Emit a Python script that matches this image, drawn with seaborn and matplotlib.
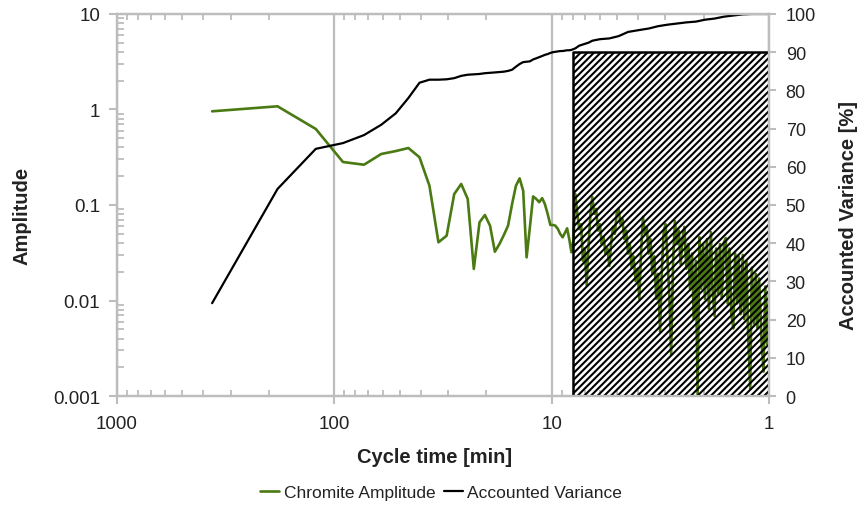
import matplotlib
matplotlib.use("Agg")
import matplotlib.pyplot as plt
import numpy as np
import pandas as pd
import seaborn as sns
from matplotlib.ticker import LogLocator, NullFormatter

# cycle times [min] of the harmonics outside the shaded band
period_main = [365, 182.5, 121.67, 91.25, 73.0, 60.83, 52.14, 45.63, 40.56, 36.5,
               33.18, 30.42, 28.08, 26.07, 24.33, 22.81, 21.47, 20.28, 19.21, 18.25,
               17.38, 16.59, 15.87, 15.21, 14.6, 14.04, 13.52, 13.04, 12.59, 12.17,
               11.77, 11.41, 11.06, 10.74, 10.43, 10.14, 9.86, 9.61, 9.36, 9.13,
               8.90, 8.69, 8.49, 8.30, 8.11]
amp_main = [0.957, 1.08, 0.625, 0.282, 0.264, 0.342, 0.367, 0.395, 0.316, 0.159,
            0.0407, 0.0477, 0.130, 0.166, 0.1156, 0.0214, 0.0659, 0.0785, 0.0607, 0.0324,
            0.0391, 0.0485, 0.0607, 0.102, 0.159, 0.190, 0.141, 0.0283, 0.0589, 0.123,
            0.1156, 0.107, 0.118, 0.102, 0.0805, 0.0618, 0.0618, 0.0607, 0.0561, 0.0497,
            0.0459, 0.0509, 0.057, 0.044, 0.032]
var_main = [24.3, 54.2, 64.7, 66.2, 68.3, 71.0, 74.0, 78.0, 82.0, 82.8,
            82.8, 82.9, 83.2, 83.8, 84.1, 84.2, 84.3, 84.5, 84.6, 84.7,
            84.8, 84.9, 85.1, 85.4, 86.2, 86.9, 87.4, 87.5, 87.6, 88.1,
            88.4, 88.7, 89.0, 89.3, 89.5, 89.8, 90.0, 90.1, 90.2, 90.3,
            90.3, 90.4, 90.5, 90.5, 90.6]

# short cycle times inside the shaded band
period_fine = [7.93, 7.78, 7.62, 7.47, 7.32, 7.18, 7.04, 6.90, 6.76, 6.63,
               6.50, 6.37, 6.24, 6.12, 6.00, 5.88, 5.77, 5.65, 5.54, 5.43,
               5.33, 5.22, 5.12, 5.02, 4.92, 4.82, 4.73, 4.63, 4.54, 4.45,
               4.37, 4.28, 4.20, 4.11, 4.03, 3.95, 3.87, 3.80, 3.72, 3.65,
               3.58, 3.51, 3.44, 3.37, 3.30, 3.24, 3.17, 3.11, 3.05, 2.99,
               2.93, 2.87, 2.82, 2.76, 2.71, 2.65, 2.60, 2.55, 2.50, 2.45,
               2.40, 2.35, 2.31, 2.26, 2.22, 2.17, 2.13, 2.09, 2.05, 2.01,
               1.97, 1.93, 1.89, 1.85, 1.82, 1.78, 1.75, 1.71, 1.68, 1.65,
               1.61, 1.58, 1.55, 1.52, 1.49, 1.46, 1.43, 1.40, 1.38, 1.35,
               1.32, 1.30, 1.27, 1.25, 1.22, 1.20, 1.17, 1.15, 1.13, 1.11,
               1.08, 1.06, 1.04, 1.02, 1.0]
amp_fine = [0.044, 0.130, 0.081, 0.056, 0.063, 0.026, 0.035, 0.0145, 0.039, 0.081,
            0.121, 0.081, 0.091, 0.054, 0.063, 0.039, 0.046, 0.031, 0.035, 0.023,
            0.039, 0.059, 0.050, 0.081, 0.091, 0.063, 0.072, 0.044, 0.054, 0.031,
            0.039, 0.022, 0.029, 0.016, 0.0215, 0.0104, 0.035, 0.075, 0.050, 0.059,
            0.031, 0.044, 0.019, 0.029, 0.0104, 0.019, 0.0047, 0.0215, 0.054, 0.063,
            0.027, 0.0104, 0.0027, 0.027, 0.068, 0.039, 0.054, 0.024, 0.044, 0.059,
            0.0215, 0.039, 0.0133, 0.031, 0.0064, 0.026, 0.00101, 0.046, 0.0133, 0.039,
            0.0104, 0.044, 0.0082, 0.052, 0.0133, 0.0069, 0.035, 0.0118, 0.039, 0.0104,
            0.041, 0.045, 0.0093, 0.035, 0.0072, 0.0051, 0.031, 0.0093, 0.029, 0.0072,
            0.030, 0.0064, 0.026, 0.0051, 0.0012, 0.022, 0.0057, 0.019, 0.0051, 0.017,
            0.0035, 0.0018, 0.014, 0.0035, 0.0118]
var_fine_period = [7.78, 7.47, 6.76, 6.50, 6.0, 5.43, 4.92, 4.45, 3.95, 3.57,
                   3.24, 2.93, 2.65, 2.40, 2.17, 1.97, 1.78, 1.61, 1.46, 1.32,
                   1.20, 1.08, 1.0]
var_fine = [91.0, 91.7, 92.5, 93.0, 93.4, 93.6, 94.2, 95.3, 95.8, 96.2,
            96.8, 97.2, 97.5, 97.8, 98.0, 98.5, 98.8, 99.3, 99.6, 99.9,
            100.0, 100.0, 100.0]

# shaded band of short cycle times
band_period = [8.0, 1.0]
band_top = 90

amp_df = pd.DataFrame({"period": period_main + period_fine,
                       "amplitude": amp_main + amp_fine})
var_df = pd.DataFrame({"period": period_main + var_fine_period,
                       "variance": var_main + var_fine})

sns.set_style("white")
plt.rcParams["font.family"] = ["Liberation Sans", "DejaVu Sans"]
plt.rcParams["hatch.linewidth"] = 1.5

green = "#4a7a12"
gray = "#bdbdbd"
txt = "#222222"

fig = plt.figure(figsize=(8.62, 5.06), dpi=100)
ax = fig.add_axes([0.1357, 0.2154, 0.7564, 0.755])
ax2 = ax.twinx()

sns.lineplot(data=amp_df, x="period", y="amplitude", ax=ax, color=green,
             lw=1.9, estimator=None, label="Chromite Amplitude", legend=False)
sns.lineplot(data=var_df, x="period", y="variance", ax=ax2, color="black",
             lw=1.6, estimator=None, label="Accounted Variance", legend=False)

ax2.fill_between(band_period, 0, band_top, facecolor="none", edgecolor="black",
                 hatch="/////", linewidth=1.8)

ax.set_xscale("log")
ax.set_yscale("log")
ax.set_xlim(1000, 1)
ax.set_ylim(0.001, 10)
ax2.set_ylim(0, 100)

ax.set_xticks([1000, 100, 10, 1])
ax.set_xticklabels(["1000", "100", "10", "1"])
ax.set_yticks([0.001, 0.01, 0.1, 1, 10])
ax.set_yticklabels(["0.001", "0.01", "0.1", "1", "10"])
ax.xaxis.set_minor_locator(LogLocator(base=10, subs=np.arange(2, 10), numticks=20))
ax.yaxis.set_minor_locator(LogLocator(base=10, subs=np.arange(2, 10), numticks=20))
ax.xaxis.set_minor_formatter(NullFormatter())
ax.yaxis.set_minor_formatter(NullFormatter())
ax2.set_yticks(range(0, 101, 10))

ax.tick_params(axis="x", which="major", direction="out", length=6, width=1.5,
               color=gray, top=False, bottom=True, labelsize=13.5, labelcolor=txt, pad=8)
ax.tick_params(axis="x", which="minor", direction="in", length=4, width=1.3,
               color=gray, top=True, bottom=True)
ax.tick_params(axis="y", which="major", direction="out", length=6, width=1.5,
               color=gray, right=False, labelsize=13.5, labelcolor=txt, pad=6)
ax.tick_params(axis="y", which="minor", direction="in", length=5, width=1.3,
               color=gray, right=False)
ax2.tick_params(axis="y", which="major", direction="out", length=5, width=1.5,
                color=gray, labelsize=13, labelcolor=txt, pad=7)

for a in (ax, ax2):
    for s in a.spines.values():
        s.set_color(gray)
        s.set_linewidth(1.6)

ax.grid(True, axis="x", which="major", color=gray, lw=1.6)
ax.grid(False, axis="y")
ax.set_xlabel("")
ax.set_ylabel("")
ax2.set_ylabel("")

fig.text(0.5046, 0.0949, "Cycle time [min]", ha="center", va="center",
         fontsize=14.5, fontweight="bold", color=txt)
fig.text(0.0255, 0.573, "Amplitude", ha="center", va="center", rotation=90,
         fontsize=14.5, fontweight="bold", color=txt)
fig.text(0.9838, 0.575, "Accounted Variance [%]", ha="center", va="center",
         rotation=90, fontsize=14.5, fontweight="bold", color=txt)

handles = [ax.lines[0], ax2.lines[0]]
fig.legend(handles, ["Chromite Amplitude", "Accounted Variance"], loc="center",
           bbox_to_anchor=(0.512, 0.024), ncol=2, frameon=False, fontsize=12.5,
           handlelength=1.1, handletextpad=0.25, columnspacing=0.5,
           labelcolor=txt)

fig.savefig("out.png", dpi=100)
